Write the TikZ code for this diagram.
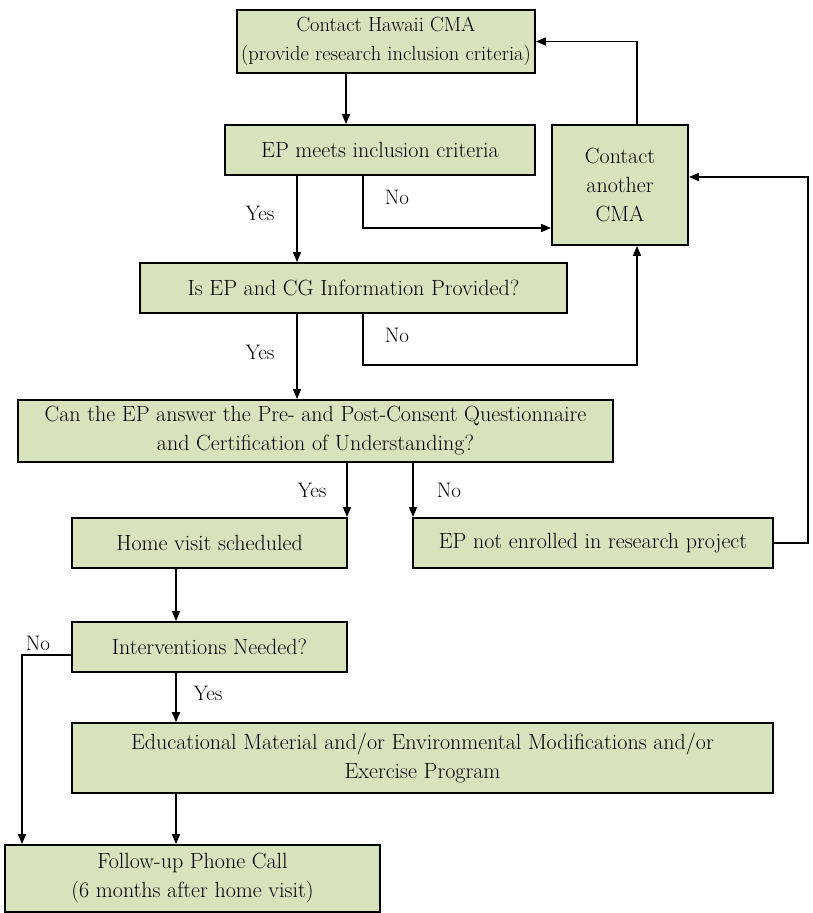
\documentclass[tikz,border=0pt]{standalone}
\usepackage{fontspec}
\usetikzlibrary{arrows.meta}
\definecolor{boxfill}{RGB}{214,227,188}
\tikzset{
  box/.style={draw=black, line width=1.8pt, fill=boxfill, align=center, inner sep=0pt,
    font=\fontsize{22}{29}\selectfont},
  arr/.style={line width=1.4pt, -{Triangle[length=10pt,width=8pt]}},
  lbl/.style={font=\fontsize{21}{26}\selectfont, inner sep=0pt}
}
\begin{document}
\begin{tikzpicture}[x=1pt,y=-1pt]
\useasboundingbox (0,0) rectangle (813,913);
% boxes
\node[box, minimum width=298pt, minimum height=63pt, font=\fontsize{20.5}{29}\selectfont] (b1) at (386,41.5) {Contact Hawaii CMA\\(provide research inclusion criteria)};
\node[box, minimum width=310pt, minimum height=50pt] (b2) at (380,150) {EP meets inclusion criteria};
\node[box, minimum width=136pt, minimum height=120pt, text width=120pt] (cma) at (620,185) {Contact\\another\\CMA\\[14pt]};
\node[box, minimum width=427pt, minimum height=50pt] (b3) at (353.5,288) {Is EP and CG Information Provided?};
\node[box, minimum width=595pt, minimum height=62pt] (b4) at (315.5,431) {Can the EP answer the Pre- and Post-Consent Questionnaire\\and Certification of Understanding?};
\node[box, minimum width=275pt, minimum height=50pt] (b5) at (209.5,543) {Home visit scheduled};
\node[box, minimum width=360pt, minimum height=50pt] (b6) at (593,543) {EP not enrolled in research project};
\node[box, minimum width=275pt, minimum height=50pt] (b7) at (209.5,647) {Interventions Needed?};
\node[box, minimum width=701pt, minimum height=70pt] (b8) at (422.5,758) {Educational Material and/or Environmental Modifications and/or\\Exercise Program};
\node[box, minimum width=375pt, minimum height=67pt] (b9) at (192.5,878.5) {Follow-up Phone Call\\(6 months after home visit)};
% coordinates
\coordinate (r1) at (808,543);
\coordinate (l7) at (22,655);
% connectors
\draw[arr] (346,0 |- b1.south) -- (346,0 |- b2.north);
\draw[arr] (637,0 |- cma.north) |- (b1.east);
\draw[arr] (297,0 |- b2.south) -- (297,0 |- b3.north);
\draw[arr] (363,0 |- b2.south) |- (cma.west |- 0,228);
\draw[arr] (297,0 |- b3.south) -- (297,0 |- b4.north);
\draw[arr] (363,0 |- b3.south) -- (363,365) -| (637,0 |- cma.south);
\draw[arr] (347,0 |- b4.south) -- (347,0 |- b5.north);
\draw[arr] (413,0 |- b4.south) -- (413,0 |- b6.north);
\draw[arr] (b6.east) -- (r1) |- (cma.east |- 0,177);
\draw[arr] (176,0 |- b5.south) -- (176,0 |- b7.north);
\draw[arr] (b7.west |- l7) -- (l7) -- (l7 |- b9.north);
\draw[arr] (176,0 |- b7.south) -- (176,0 |- b8.north);
\draw[arr] (176,0 |- b8.south) -- (176,0 |- b9.north);
% labels
\node[lbl] (y1) at (260,213) {Yes};
\node[lbl] (n1) at (397,197) {No};
\node[lbl] (y2) at (260,352) {Yes};
\node[lbl] (n2) at (397,335) {No};
\node[lbl] (y3) at (312,490) {Yes};
\node[lbl] (n3) at (449,490) {No};
\node[lbl] (n4) at (38,643) {No};
\node[lbl] (y4) at (208,693) {Yes};
\end{tikzpicture}
\end{document}
